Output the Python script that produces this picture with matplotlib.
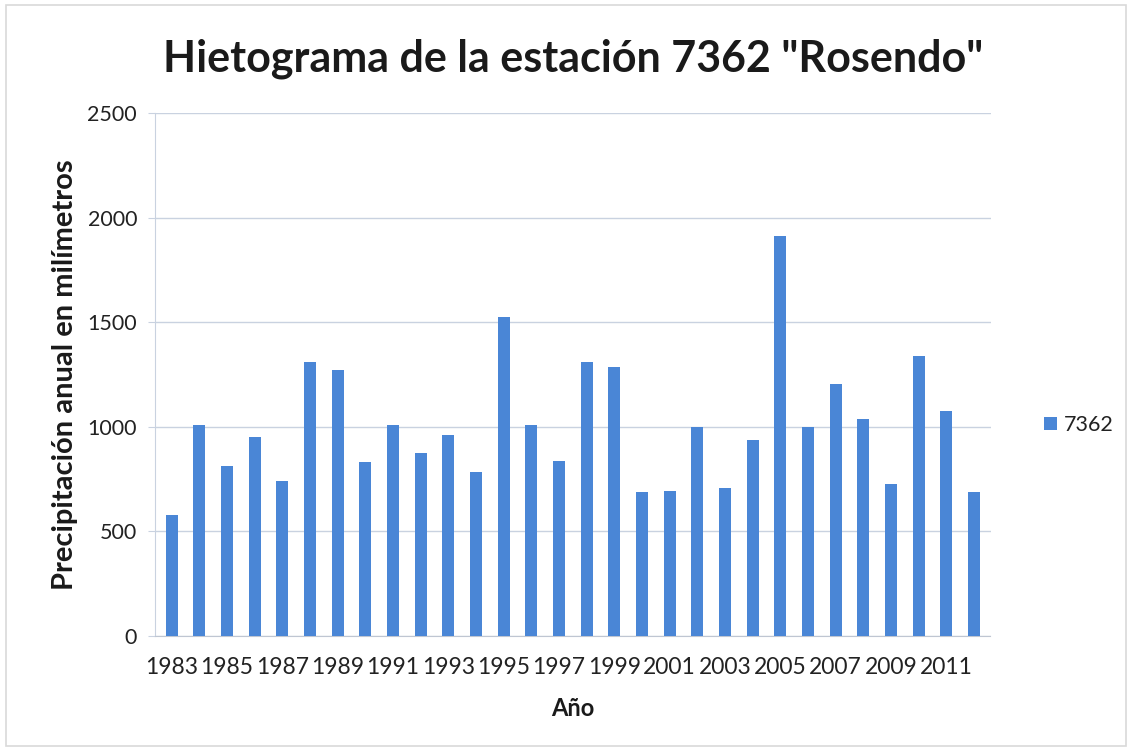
import matplotlib
matplotlib.use("Agg")
import matplotlib.pyplot as plt
from matplotlib.patches import Rectangle

plt.rcParams['font.family'] = ['Lato', 'DejaVu Sans']

years = list(range(1983, 2013))
precip = [580, 1008, 812, 952, 740, 1310, 1270, 832, 1008, 873, 962, 785, 1525, 1008, 835,
          1312, 1285, 689, 693, 1000, 708, 935, 1915, 998, 1205, 1040, 727, 1340, 1078, 689]
xtick_labels = [str(y) if (y - 1983) % 2 == 0 else "" for y in years]
yticks = [0, 500, 1000, 1500, 2000, 2500]

bar_color = '#4A86D6'
grid_color = '#C9D2E0'

fig = plt.figure(figsize=(11.32, 7.5), dpi=100)
fig.patches.append(Rectangle((0.005, 0.006), 0.99, 0.988, transform=fig.transFigure,
                             fill=False, edgecolor='#D9D9D9', linewidth=1.2))
ax = fig.add_axes([0.137, 0.152, 0.738, 0.697])

x = list(range(len(years)))
ax.bar(x, precip, width=0.43, color=bar_color, label='7362', zorder=3)
ax.set_xlim(-0.6, len(years) - 0.4)
ax.set_ylim(0, 2500)
ax.set_yticks(yticks)
ax.set_yticklabels([str(v) for v in yticks], fontsize=15.5, color='#222222')
ax.set_xticks(x)
ax.set_xticklabels(xtick_labels, fontsize=16.5, color='#222222')
ax.tick_params(axis='x', length=0, pad=15)
ax.tick_params(axis='y', length=5, color=grid_color, pad=8)
ax.yaxis.grid(True, color=grid_color, linewidth=1, zorder=0)
for s in ['top', 'right']:
    ax.spines[s].set_visible(False)
ax.spines['left'].set_color(grid_color)
ax.spines['bottom'].set_color('#BFC6D2')

ax.set_title('Hietograma de la estación 7362 "Rosendo"', fontsize=31, fontweight='bold',
             color='#1a1a1a', pad=30)
ax.set_ylabel('Precipitación anual en milímetros', fontsize=21, fontweight='bold',
              color='#1a1a1a', labelpad=7)
ax.set_xlabel('Año', fontsize=17, fontweight='bold', color='#1a1a1a', labelpad=14)

leg = fig.legend(loc='center left', bbox_to_anchor=(0.905, 0.433), frameon=False,
                 fontsize=15.5, handlelength=0.6, handleheight=0.6, handletextpad=0.35)
for t in leg.get_texts():
    t.set_color('#222222')

fig.savefig('out.png', dpi=100, facecolor='white')
